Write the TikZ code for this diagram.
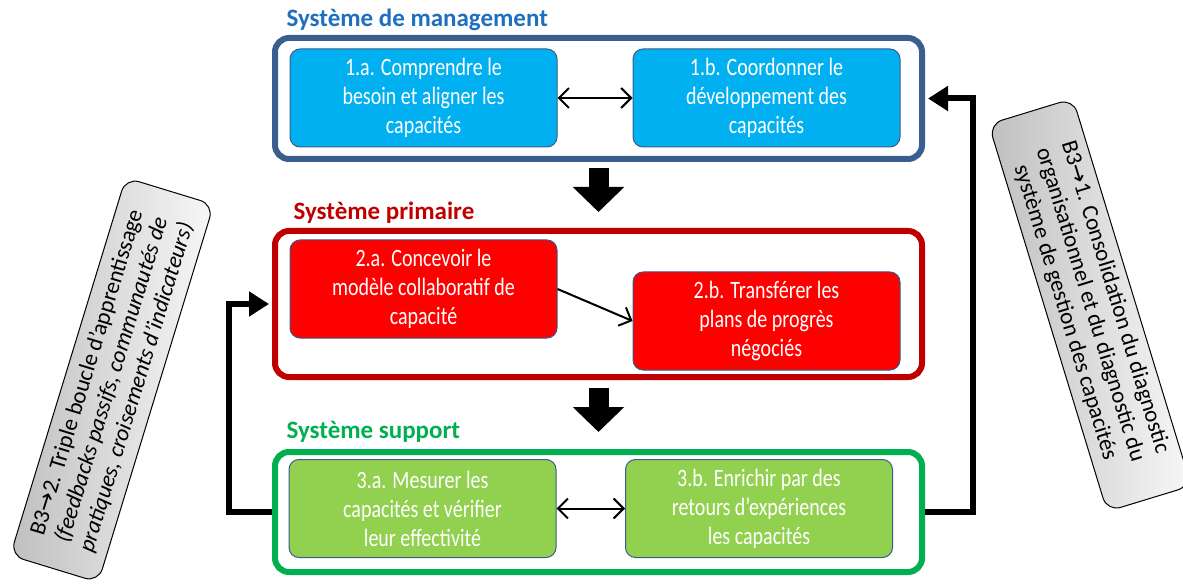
\documentclass[tikz,border=0pt]{standalone}
\usepackage{fontspec}
\setmainfont[FakeStretch=0.8]{Carlito}
\newfontfamily\notefont{Carlito}
\newfontfamily\arrowfont{DejaVu Sans}
\usetikzlibrary{arrows.meta,positioning}
\definecolor{mgmtblue}{HTML}{3A5F8F}
\definecolor{mgmttitle}{HTML}{1F6FBF}
\definecolor{boxblue}{HTML}{00B0F0}
\definecolor{primred}{HTML}{C00000}
\definecolor{boxred}{HTML}{FF0000}
\definecolor{suppgreen}{HTML}{00B050}
\definecolor{boxgreen}{HTML}{92D050}
\definecolor{boxborder}{HTML}{385D8A}

\begin{document}
\begin{tikzpicture}[x=1pt,y=-1pt,
  frame/.style={rectangle,draw,line width=6pt,rounded corners=14pt,minimum width=647pt,minimum height=121pt},
  box/.style={rectangle,draw=boxborder,line width=1pt,rounded corners=10pt,minimum width=267pt,minimum height=98pt,align=center,text=white,font=\fontsize{25}{29}\selectfont},
  title/.style={anchor=west,font=\notefont\fontsize{25}{30}\selectfont\bfseries},
  link/.style={{Straight Barb[length=3.5mm]}-{Straight Barb[length=3.5mm]},line width=2pt},
  bigarrow/.style={-{Triangle[length=25pt,width=50pt]},line width=20pt},
  looparrow/.style={-{Triangle[length=20pt,width=24pt]},line width=6pt},
  note/.style={rectangle,draw,line width=1pt,rounded corners=14pt,left color=gray!50,right color=gray!6,align=center,font=\notefont\fontsize{23}{26}\selectfont,inner sep=4pt}
]
\useasboundingbox (0,0) rectangle (1183,585);

% frames of the three systems
\node[frame,draw=mgmtblue] (fm) at (598.5,98.5) {};
\node[frame,draw=primred,minimum height=146pt] (fp) at (598.5,304) {};
\node[frame,draw=suppgreen,minimum height=120pt] (fs) at (598.5,512) {};

\node[title,text=mgmttitle] (tm) at (283,20) {Système de management};
\node[title,text=primred] (tp) at (290,213) {Système primaire};
\node[title,text=suppgreen] (ts) at (283,432) {Système support};

% processes
\node[box,fill=boxblue] (b1a) at (423.5,98) {1.a. Comprendre le\\besoin et aligner les\\capacités};
\node[box,fill=boxblue] (b1b) at (766.5,98) {1.b. Coordonner le\\développement des\\capacités};
\node[box,fill=boxred] (b2a) at (423.5,289) {2.a. Concevoir le\\modèle collaboratif de\\capacité};
\node[box,fill=boxred] (b2b) at (766.5,321) {2.b. Transférer les\\plans de progrès\\négociés};
\node[box,fill=boxgreen] (b3a) at (422.5,508.5) {3.a. Mesurer les\\capacités et vérifier\\leur effectivité};
\node[box,fill=boxgreen] (b3b) at (759,508.5) {3.b. Enrichir par des\\retours d’expériences\\les capacités};

\draw[link] (b1a) -- (b1b);
\draw[link,{Straight Barb[length=3.5mm]}-] (b2b.west) -- (b2a.east);
\draw[link] (b3a) -- (b3b);

% flow between systems
\draw[bigarrow,shorten <=6pt,shorten >=16pt] (fm.south) -- (fp.north);
\draw[bigarrow,shorten <=8pt,shorten >=17pt] (fp.south) -- (fs.north);

% feedback loops
\draw[looparrow,shorten >=3pt] (fs.west) -- ++(-43,0) |- (fp.west);
\draw[looparrow,shorten >=3pt] (fs.east) -- ++(48,0) |- (fm.east);

\node[note,rotate=73,minimum width=395pt,minimum height=92pt] (nl) at (112,380)
  {B3{\arrowfont →}2. Triple boucle d’apprentissage\\\textit{(feedbacks passifs, communautés de}\\\textit{pratiques, croisements d’indicateurs)}};
\node[note,rotate=-73,minimum width=405pt,minimum height=88pt] (nr) at (1090,305)
  {B3{\arrowfont →}1. Consolidation du diagnostic\\organisationnel et du diagnostic du\\système de gestion des capacités};
\end{tikzpicture}
\end{document}
